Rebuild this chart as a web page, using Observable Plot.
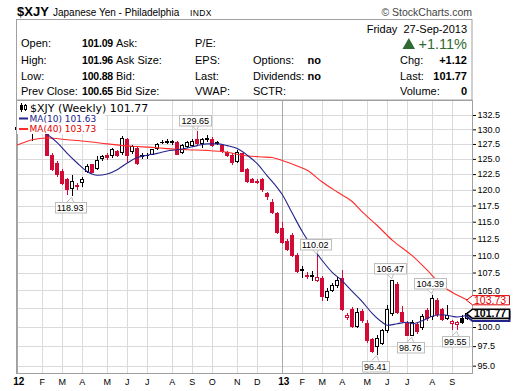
<!DOCTYPE html>
<html><head><meta charset="utf-8">
<script src="https://cdn.jsdelivr.net/npm/d3@7"></script>
<script src="https://cdn.jsdelivr.net/npm/@observablehq/plot@0.6"></script>
<style>
html,body{margin:0;padding:0;background:#fff;}
#wrap{position:relative;width:520px;height:391px;overflow:hidden;}
#wrap svg{position:absolute;left:0;top:0;}
</style></head><body><div id="wrap"></div>
<script>
// ---------- data ----------
const weeks = d3.utcMonday.range(new Date(Date.UTC(2012,0,2)), new Date(Date.UTC(2013,8,24))); // 91 weekly bars
const open = [129.9,130.3,130.4,130.1,129.6,130.6,129.8,125.6,124.3,123.0,
121.6,120.2,120.6,121.1,123.0,124.0,123.4,125.0,125.5,125.5,
126.3,126.0,128.3,126.2,126.7,125.4,125.5,125.8,126.7,127.7,
127.8,127.8,127.8,126.0,127.1,127.3,128.2,127.6,128.3,128.3,
127.6,127.2,126.1,125.6,124.5,125.9,123.2,121.6,121.3,121.7,
119.4,118.0,116.2,114.0,112.0,112.9,110.0,107.8,107.1,107.0,
106.4,106.7,104.0,105.0,105.6,106.6,101.3,102.3,100.1,102.1,
100.5,98.3,97.4,97.9,99.5,101.8,105.8,101.9,100.5,98.9,
100.3,100.0,102.2,101.4,103.6,102.3,101.2,100.5,100.4,101.1,
101.09];
const high = [130.8,130.7,130.6,130.6,130.9,130.9,130.0,126.0,124.6,123.3,
121.8,122.3,121.0,122.1,124.1,124.2,125.4,125.6,126.0,126.9,
126.5,128.8,128.5,127.4,127.0,126.0,125.9,126.7,127.6,128.2,
128.3,128.2,128.0,127.5,128.0,128.3,129.65,128.5,129.0,128.6,
128.0,127.5,126.3,125.9,126.5,126.0,123.5,121.9,121.7,121.9,
119.6,118.5,116.5,115.0,112.4,113.3,110.3,108.4,107.6,107.7,
110.02,107.0,105.3,106.0,106.8,107.9,101.9,102.7,102.6,102.4,
100.9,98.6,98.9,99.8,103.0,106.47,106.1,102.8,100.8,100.9,
100.7,101.7,102.5,104.39,103.9,102.6,102.9,100.9,100.8,101.6,
101.96];
const low = [129.5,129.8,129.4,128.0,129.5,129.6,125.4,123.0,122.0,120.8,
119.2,118.93,120.0,120.5,122.7,122.6,123.2,124.7,124.8,125.2,
125.3,125.7,124.3,125.8,124.0,124.9,125.0,125.6,126.4,127.5,
127.5,127.4,125.7,125.8,126.9,127.0,127.4,126.8,127.8,127.0,
127.3,126.0,125.3,124.0,124.3,122.8,121.0,121.0,120.9,119.6,
118.3,116.2,113.2,111.7,110.6,109.8,107.5,106.7,106.6,106.3,
106.2,103.5,103.5,104.8,105.3,102.2,101.0,99.9,99.9,100.6,
97.9,96.6,96.41,97.6,99.2,101.5,101.8,100.5,98.8,98.76,
99.1,99.6,100.8,101.0,101.3,100.8,100.9,99.6,99.55,100.4,
100.88];
const close = [130.3,130.4,129.5,129.6,130.6,129.8,125.6,123.2,122.4,121.0,
120.0,121.3,120.5,121.6,123.8,122.8,124.8,125.4,125.3,126.6,
125.6,128.4,125.6,127.0,124.3,125.5,125.6,126.5,127.4,127.8,
127.9,127.9,125.8,127.3,127.7,128.0,127.6,128.2,128.4,127.3,
127.7,126.2,125.5,124.4,126.0,123.0,121.3,121.2,121.1,120.0,
118.9,116.4,113.4,111.9,110.8,110.0,107.7,107.9,107.0,107.1,
106.8,104.1,104.8,105.7,106.3,102.4,101.6,100.1,101.9,100.9,
98.2,96.8,98.5,99.5,102.3,106.3,102.0,100.7,98.9,100.6,
99.4,101.4,101.1,103.9,101.7,101.0,101.6,100.8,100.6,100.65,
101.77];
const ma10Week = [0,2,4,6,8,10,12,14,16,18,20,22,24,26,28,30,32,34,36,38,40,42,44,46,48,50,52,53,55,57,59,61,63,65,67,69,71,73,74,76,78,79,81,83,85,87,88,90];
const ma10Value = [129.9,130.0,129.9,129.2,127.8,126.0,124.4,123.0,122.4,122.6,123.3,124.4,125.3,125.7,126.0,126.4,126.6,126.9,127.3,127.6,127.6,127.3,126.8,125.7,124.3,122.3,120.4,119.3,116.4,113.6,111.3,109.3,107.6,106.4,104.9,103.5,101.9,100.7,100.3,100.5,100.7,100.5,100.9,101.5,101.7,101.5,101.4,101.63];
const ma40Week = [0,3,6,10,14,18,23,27,30,34,38,42,45,49,51,53,56,58,61,64,67,69,72,75,79,82,85,88,90];
const ma40Value = [127.4,128.3,128.6,128.3,128.0,127.6,127.2,127.0,126.8,126.6,126.5,126.2,125.7,125.4,125.3,124.8,123.9,123.2,121.3,119.7,118.2,116.6,114.5,112.3,110.0,107.9,105.7,104.4,103.73];
const yTicks = [95,97.5,100,102.5,105,107.5,110,112.5,115,117.5,120,122.5,125,127.5,130,132.5];
const yTickLabels = [95,97.5,100,105,107.5,110,112.5,115,117.5,120,122.5,125,127.5,130,132.5]; // 102.5 sits under the price tags
const monthLetters = ["J","F","M","A","M","J","J","A","S","O","N","D"];
const annotWeek  = [11, 36, 60, 72, 75, 79, 83, 88];
const annotValue = [118.93, 129.65, 110.02, 96.41, 106.47, 98.76, 104.39, 99.55];
const annotSide  = ["below","above","above","below","above","below","above","below"];
const quoteLabels1 = ["Open:","High:","Low:","Prev Close:"];
const quoteValues1 = ["101.09","101.96","100.88","100.65"];
const quoteLabels2 = ["Ask:","Ask Size:","Bid:","Bid Size:"];
const quoteLabels3 = ["P/E:","EPS:","Last:","VWAP:"];
const quoteLabels4 = ["","Options:","Dividends:","SCTR:"];
const quoteValues4 = ["","no","no",""];
const quoteLabels5 = ["","Chg:","Last:","Volume:"];
const quoteValues5 = ["","+1.12","101.77","0"];
const lastClose = 101.77, ma10Last = 101.63, ma40Last = 103.73, pctChange = "+1.11%";

// ---------- build ----------
const RED = "#d10a36", BLACK = "#000000", NAVY = "#23238c", MARED = "#ff2a2a";
const WEEK = 7*864e5;
const t = i => new Date(+weeks[0] + i*WEEK);
const candles = weeks.map((date,i) => ({
  date, i, open: open[i], high: high[i], low: low[i], close: close[i],
  color: (i > 0 && close[i] < close[i-1]) ? RED : BLACK,
  hollow: close[i] >= open[i]
}));
const ma10 = ma10Week.map((w,k) => ({date: weeks[w], value: ma10Value[k]}));
const ma40 = ma40Week.map((w,k) => ({date: weeks[w], value: ma40Value[k]}));
const monthTicks = weeks.filter((d,i) => i === 0 || d.getUTCMonth() !== weeks[i-1].getUTCMonth());
const yearTicks = monthTicks.filter(d => d.getUTCMonth() === 0);
const otherTicks = monthTicks.filter(d => d.getUTCMonth() !== 0);
const yDomain = [94.08, 135.16];

const plot = Plot.plot({
  width: 520, height: 391,
  marginTop: 100, marginBottom: 18, marginLeft: 16, marginRight: 48,
  style: {background: "white", fontFamily: "Liberation Sans, Arial, sans-serif", fontSize: "9px", color: "#000", overflow: "visible"},
  x: {type: "utc", domain: [t(-0.14), t(91.06)], axis: null},
  y: {type: "log", domain: yDomain, axis: "right", ticks: yTickLabels, tickFormat: d => d.toFixed(1), tickSize: 3, tickPadding: 2, label: null},
  color: {type: "identity"},
  marks: [
    Plot.ruleY(yTicks, {stroke: "#dadada", strokeWidth: 1, shapeRendering: "crispEdges"}),
    Plot.ruleX(otherTicks, {stroke: "#dadada", strokeWidth: 1, shapeRendering: "crispEdges"}),
    Plot.ruleX(yearTicks, {stroke: "#a9a9a9", strokeWidth: 1, shapeRendering: "crispEdges"}),
    Plot.ruleX(candles, {x: "date", y1: "low", y2: "high", stroke: "color", strokeWidth: 1, shapeRendering: "crispEdges"}),
    Plot.rect(candles, {
      x1: d => new Date(+d.date - 0.3*WEEK), x2: d => new Date(+d.date + 0.3*WEEK),
      y1: "open", y2: "close",
      fill: d => d.hollow ? "#ffffff" : d.color, stroke: "color", strokeWidth: 1, shapeRendering: "crispEdges"
    }),
    Plot.line(ma40, {x: "date", y: "value", stroke: MARED, strokeWidth: 1.1, curve: "monotone-x"}),
    Plot.line(ma10, {x: "date", y: "value", stroke: NAVY, strokeWidth: 1.1, curve: "monotone-x"}),
    Plot.text(otherTicks, {x: d => d, text: d => monthLetters[d.getUTCMonth()], frameAnchor: "bottom", dy: 11, fontSize: 9}),
    Plot.text(yearTicks, {x: d => d, text: d => String(d.getUTCFullYear()).slice(2), frameAnchor: "bottom", dy: 11, fontSize: 10, fontWeight: "bold", dx: 1.5}),
    Plot.frame({stroke: "#a0a0a0", shapeRendering: "crispEdges"})
  ]
});
document.getElementById("wrap").appendChild(plot);

const svg = d3.select(plot);
const xsc = plot.scale("x"), ysc = plot.scale("y");
const X = (xsc && xsc.apply) ? (v => xsc.apply(v)) : d3.scaleUtc().domain([t(-0.14), t(91.06)]).range([16, 472]);
const Y = (ysc && ysc.apply) ? (v => ysc.apply(v)) : d3.scaleLog().domain(yDomain).range([373, 100]);
const FF = "Liberation Sans, Arial, sans-serif";
const DJ = "DejaVu Sans, Verdana, sans-serif";
function T(g, x, y, s, o = {}) {
  const e = g.append("text").attr("x", x).attr("y", y).text(s)
    .attr("font-family", o.ff || FF).attr("font-size", o.fs || 11).attr("fill", o.fill || "#000")
    .attr("text-anchor", o.anchor || "start").attr("font-weight", o.fw || "normal");
  if (o.ls) e.attr("letter-spacing", o.ls);
  return e;
}
const over = svg.append("g").attr("text-anchor", "start");

// annotations
annotWeek.forEach((w, k) => {
  const cx = X(weeks[w]) - 1.5, py = Y(annotValue[k]);
  const above = annotSide[k] === "above";
  const g = over.append("g");
  const tx = T(g, cx, 0, annotValue[k].toFixed(2), {fs: 9, anchor: "middle"});
  const tw = tx.node().getComputedTextLength() + 4, h = 10.5;
  const top = above ? py - 6 - h : py + 6;
  const baseY = above ? top + h : top;
  const tipY = above ? py - 1 : py + 1;
  g.insert("path", "text").attr("d", `M${cx-3.5},${baseY}L${cx+1.5},${tipY}L${cx+3.5},${baseY}`)
    .attr("fill", "#fff").attr("stroke", "#bdbdbd");
  g.insert("rect", "text").attr("x", Math.round(cx - tw/2) + 0.5).attr("y", Math.round(top) + 0.5)
    .attr("width", Math.round(tw)).attr("height", h).attr("fill", "#fff").attr("stroke", "#bdbdbd");
  tx.attr("y", Math.round(top) + 8.8);
});

// right-side price tags
function tag(v, yc, color, sw, bold) {
  const g = over.append("g");
  g.append("path").attr("d", `M466.5,${yc}L472.5,${yc-4.6}L509.5,${yc-4.6}L509.5,${yc+4.6}L472.5,${yc+4.6}Z`)
    .attr("fill", "#fff").attr("stroke", color).attr("stroke-width", sw);
  if (v !== null) T(g, 474, yc + 3.7, v.toFixed(2), {fs: 10.5, fw: bold ? "bold" : null, fill: color});
}
tag(ma40Last, Y(ma40Last) + 0.8, "#e00000", 1, false);
tag(null, Y(ma10Last) + 1.5, NAVY, 2, false);
tag(lastClose, Y(lastClose), "#000", 1.6, true);

// legend
const lg = over.append("g");
lg.append("rect").attr("x", 17).attr("y", 101).attr("width", 139).attr("height", 14).attr("fill", "#fff");
lg.append("rect").attr("x", 17).attr("y", 115).attr("width", 88).attr("height", 19).attr("fill", "#fff");
lg.append("line").attr("x1", 21.5).attr("x2", 21.5).attr("y1", 103).attr("y2", 112).attr("stroke", "#000");
lg.append("rect").attr("x", 20).attr("y", 105).attr("width", 3).attr("height", 5).attr("fill", "#000");
lg.append("line").attr("x1", 25.5).attr("x2", 25.5).attr("y1", 104).attr("y2", 111).attr("stroke", "#000");
lg.append("rect").attr("x", 24.5).attr("y", 105.5).attr("width", 2).attr("height", 4).attr("fill", "#fff").attr("stroke", "#000");
T(lg, 30, 112, "$XJY (Weekly) " + lastClose.toFixed(2), {ff: DJ, fs: 11});
lg.append("line").attr("x1", 19).attr("x2", 28).attr("y1", 118.5).attr("y2", 118.5).attr("stroke", NAVY).attr("stroke-width", 2);
T(lg, 29.5, 121.5, "MA(10) " + ma10Last.toFixed(2), {ff: DJ, fs: 9, fill: NAVY});
lg.append("line").attr("x1", 19).attr("x2", 28).attr("y1", 129).attr("y2", 129).attr("stroke", MARED).attr("stroke-width", 2);
T(lg, 29.5, 132, "MA(40) " + ma40Last.toFixed(2), {ff: DJ, fs: 9, fill: "#e00000"});

// header
const hd = over.append("g");
hd.append("rect").attr("x", 16.5).attr("y", 19.5).attr("width", 455.5).attr("height", 80.5).attr("fill", "#fff").attr("stroke", "#a0a0a0");
T(hd, 17, 16, "$XJY", {fs: 13, fw: "bold"});
T(hd, 53, 16, "Japanese Yen - Philadelphia", {fs: 10});
T(hd, 190, 16, "INDX", {fs: 8.5, ls: 0.4});
T(hd, 472, 16, "\u00A9 StockCharts.com", {fs: 10.5, fill: "#444", anchor: "end"});
T(hd, 467, 32.5, "Friday\u00A0\u00A027-Sep-2013", {fs: 11, anchor: "end"});
hd.append("path").attr("d", "M402.5,49L408.8,38L415,49Z").attr("fill", "#2e6b30");
T(hd, 467, 49, pctChange, {fs: 14.5, fill: "#2e6b30", anchor: "end"});
const rowY = [47, 64, 79.5, 95];
rowY.forEach((y, r) => {
  T(hd, 21, y, quoteLabels1[r]);
  T(hd, 82, y, quoteValues1[r], {fw: "bold", fs: 10.5, ls: -0.2});
  T(hd, 116, y, quoteLabels2[r]);
  T(hd, 195, y, quoteLabels3[r]);
  if (quoteLabels4[r]) T(hd, 253, y, quoteLabels4[r]);
  if (quoteValues4[r]) T(hd, 307.5, y, quoteValues4[r], {fw: "bold"});
  if (quoteLabels5[r]) T(hd, 400, y, quoteLabels5[r]);
  if (quoteValues5[r]) T(hd, 467, y, quoteValues5[r], {fw: "bold", anchor: "end"});
});
</script></body></html>
